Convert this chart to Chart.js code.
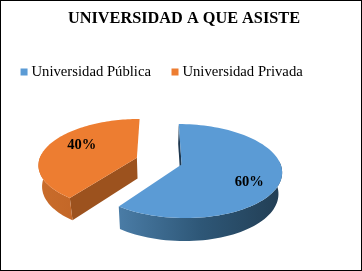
<!DOCTYPE html>
<html>
<head>
<meta charset="utf-8">
<style>
  html, body { margin: 0; padding: 0; background: #fff; }
  canvas { display: block; }
</style>
<script src="https://cdn.jsdelivr.net/npm/chart.js@4"></script>
</head>
<body>
<canvas id="chart" width="362" height="271"></canvas>
<script>
const titleText = 'UNIVERSIDAD A QUE ASISTE';
const categories = ['Universidad Pública', 'Universidad Privada'];
const shares = [60, 40];
const sliceColors = ['#5B9BD5', '#ED7D31'];

// ─── Fake 3D view of the pie (Chart.js has no 3D pie) ─────────────────────────

const view = { cx: 159, cy: 161, radius: 98, tilt: 0.46, persp: 0.001436, depth: 21, shrink: 0.03 };
const explode = 23.5;
const wallStops = [
  [['#4A7CA6', '#2E5777', '#223E54'], '#1E3850'],
  [['#C96C2B', '#B85E22'], '#9C521E'],
];
const labelNudge = [[-1, 8], [7, -3]];

function project(x, y, z) {
  const k = 1 / (1 - y * view.persp);
  const c = 1 - (z / view.depth) * view.shrink;
  return {
    x: view.cx + x * k * c,
    y: view.cy + y * view.tilt * k * c + z * k,
  };
}

function rimPoint(arc, angle, frac, z) {
  const mid = (arc.startAngle + arc.endAngle) / 2;
  const x = Math.cos(mid) * explode + Math.cos(angle) * frac * view.radius;
  const y = Math.sin(mid) * explode + Math.sin(angle) * frac * view.radius;
  return project(x, y, z);
}

function tracePath(ctx, pts) {
  ctx.beginPath();
  pts.forEach((p, i) => (i ? ctx.lineTo(p.x, p.y) : ctx.moveTo(p.x, p.y)));
  ctx.closePath();
}

function sliceAngles(arc, steps) {
  const angles = [];
  for (let i = 0; i <= steps; i++) {
    angles.push(arc.startAngle + (arc.endAngle - arc.startAngle) * i / steps);
  }
  return angles;
}

function drawSlice(ctx, arc, index, color) {
  const angles = sliceAngles(arc, 90);
  const top = angles.map((a) => rimPoint(arc, a, 1, 0));
  const apexTop = rimPoint(arc, 0, 0, 0);
  const apexBottom = rimPoint(arc, 0, 0, view.depth);
  const [stops, cutColor] = wallStops[index];

  // cut face at the start angle, the other one looks away from the viewer
  ctx.fillStyle = cutColor;
  tracePath(ctx, [apexTop, top[0], rimPoint(arc, angles[0], 1, view.depth), apexBottom]);
  ctx.fill();

  // rim, front part only
  const front = angles.filter((a) => Math.sin(a) > -0.1);
  const rimTop = front.map((a) => rimPoint(arc, a, 1, 0));
  const rimBottom = front.map((a) => rimPoint(arc, a, 1, view.depth));
  const xs = top.map((p) => p.x);
  const grad = ctx.createLinearGradient(Math.min(...xs), 0, Math.max(...xs), 0);
  stops.forEach((s, i) => grad.addColorStop(i / (stops.length - 1), s));
  ctx.fillStyle = grad;
  tracePath(ctx, rimTop.concat(rimBottom.reverse()));
  ctx.fill();

  ctx.fillStyle = color;
  tracePath(ctx, [apexTop].concat(top));
  ctx.fill();
}

const pie3d = {
  id: 'pie3d',
  afterLayout(chart) {
    // the title sits a little right of centre in the original
    chart.titleBlock.left += 6;
  },
  beforeDatasetsDraw(chart) {
    const ctx = chart.ctx;
    const arcs = chart.getDatasetMeta(0).data;
    ctx.save();
    // back slice first
    [1, 0].forEach((i) => drawSlice(ctx, arcs[i], i, sliceColors[i]));

    ctx.fillStyle = '#000';
    ctx.font = 'bold 14.5px "Liberation Serif"';
    ctx.textAlign = 'center';
    ctx.textBaseline = 'middle';
    arcs.forEach((arc, i) => {
      const mid = (arc.startAngle + arc.endAngle) / 2;
      const p = rimPoint(arc, mid, 0.7, 0);
      ctx.fillText(shares[i] + '%', p.x + labelNudge[i][0], p.y + labelNudge[i][1]);
    });
    ctx.restore();
    return false;
  },
  afterDraw(chart) {
    const ctx = chart.ctx;
    ctx.save();
    ctx.strokeStyle = '#000';
    ctx.lineWidth = 1;
    ctx.strokeRect(0.5, 0.5, chart.width - 1, chart.height - 1);
    ctx.restore();
  },
};

new Chart(document.getElementById('chart'), {
  type: 'pie',
  data: {
    labels: categories,
    datasets: [{ data: shares, backgroundColor: sliceColors, borderWidth: 0 }],
  },
  options: {
    responsive: false,
    animation: false,
    layout: { padding: 0 },
    plugins: {
      title: {
        display: true,
        text: titleText,
        color: '#000',
        font: { family: '"Liberation Serif"', size: 16.3, weight: 'bold' },
        padding: { top: 9, bottom: 12 },
      },
      legend: {
        position: 'top',
        align: 'start',
        labels: {
          usePointStyle: true,
          pointStyle: 'rect',
          boxWidth: 0.1,
          boxHeight: 7,
          padding: 24,
          color: '#000',
          font: { family: '"Liberation Serif"', size: 14.7 },
        },
      },
      tooltip: { enabled: false },
    },
  },
  plugins: [pie3d],
});
</script>
</body>
</html>
